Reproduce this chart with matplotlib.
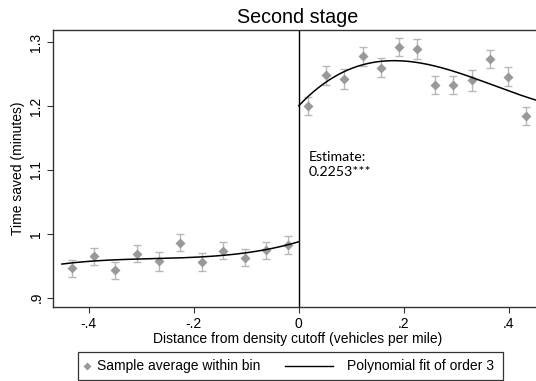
import numpy as np
import matplotlib
matplotlib.use("Agg")
import matplotlib.pyplot as plt
from matplotlib.lines import Line2D
from matplotlib.patches import Rectangle

# Bin averages (left / right of cutoff)
left_x = [-0.432, -0.390, -0.349, -0.309, -0.267, -0.226, -0.185, -0.144, -0.103, -0.062, -0.021]
left_y = [0.946, 0.965, 0.943, 0.969, 0.957, 0.986, 0.956, 0.9735, 0.9625, 0.974, 0.982]
left_err = [0.013, 0.0135, 0.013, 0.0135, 0.015, 0.013, 0.0135, 0.013, 0.0135, 0.0135, 0.014]

right_x = [0.017, 0.052, 0.086, 0.122, 0.156, 0.190, 0.225, 0.260, 0.294, 0.329, 0.364, 0.398, 0.433]
right_y = [1.200, 1.248, 1.242, 1.278, 1.260, 1.292, 1.289, 1.233, 1.233, 1.240, 1.274, 1.246, 1.184]
right_err = [0.0135, 0.015, 0.016, 0.015, 0.015, 0.014, 0.0155, 0.0145, 0.0145, 0.016, 0.0143, 0.015, 0.014]

# Points; a cubic is fitted through them
left_curve_x = [-0.451, -0.245, -0.226, -0.118, -0.055, 0.0]
left_curve_y = [0.9527, 0.9615, 0.963, 0.968, 0.977, 0.9875]
right_curve_x = [0.0, 0.031, 0.069, 0.120, 0.171, 0.212, 0.275, 0.339, 0.402, 0.450]
right_curve_y = [1.200, 1.226, 1.246, 1.2625, 1.271, 1.270, 1.2614, 1.2406, 1.222, 1.2105]

x_ticks = [-0.4, -0.2, 0, 0.2, 0.4]
x_tick_labels = ["-.4", "-.2", "0", ".2", ".4"]
y_ticks = [0.9, 1.0, 1.1, 1.2, 1.3]
y_tick_labels = [".9", "1", "1.1", "1.2", "1.3"]

legend_labels = ["Sample average within bin", "Polynomial fit of order 3"]

plt.rcParams["font.family"] = ["Liberation Sans", "DejaVu Sans"]

W, H = 536, 381
fig = plt.figure(figsize=(W / 100, H / 100), dpi=100)
ax = fig.add_axes([53 / W, 1 - 307 / H, 490 / W, 277 / H])

ax.errorbar(left_x, left_y, yerr=left_err, fmt="none", ecolor="#b8b8b8",
            elinewidth=1.0, capsize=2.6, capthick=1.0, zorder=2)
ax.errorbar(right_x, right_y, yerr=right_err, fmt="none", ecolor="#b8b8b8",
            elinewidth=1.0, capsize=2.6, capthick=1.0, zorder=2)
ax.plot(left_x + right_x, left_y + right_y, "D", color="#999999", ms=5,
        mec="none", zorder=3)

cl = np.polyfit(left_curve_x, left_curve_y, 3)
xl = np.linspace(-0.451, 0, 200)
ax.plot(xl, np.polyval(cl, xl), color="black", lw=1.1, zorder=4)
cr = np.polyfit(right_curve_x, right_curve_y, 3)
xr = np.linspace(0, 0.465, 200)
ax.plot(xr, np.polyval(cr, xr), color="black", lw=1.1, zorder=4)

ax.axvline(0, color="black", lw=1.0, zorder=1)

ax.set_xlim(-0.468, 0.465)
ax.set_ylim(0.8855, 1.319)
ax.set_xticks(x_ticks)
ax.set_xticklabels(x_tick_labels, fontsize=10)
ax.set_yticks(y_ticks)
ax.set_yticklabels(y_tick_labels, fontsize=10, rotation=90, va="center")
ax.tick_params(direction="out", length=4, width=0.8, color="#333333", pad=3)
for s in ax.spines.values():
    s.set_linewidth(1.0)
    s.set_color("#333333")

ax.set_xlabel("Distance from density cutoff (vehicles per mile)", fontsize=10, labelpad=1)
ax.set_ylabel("Time saved (minutes)", fontsize=10, labelpad=3)
ax.set_title("Second stage", fontsize=14.2, pad=5)

ax.text(0.019, 1.129, "Estimate:\n0.2253***", fontsize=10.2, family=["Lato", "DejaVu Sans"],
        va="top", ha="left", linespacing=1.25)

# legend box drawn by hand (Stata style: short gap after marker, long line key)
tf = fig.transFigure
fig.add_artist(Rectangle((78 / W, 1 - 380 / H), 425 / W, 28 / H, transform=tf,
                         facecolor="white", edgecolor="#333333", lw=0.9))
ly = 1 - 366 / H
fig.add_artist(Line2D([87 / W], [ly], marker="D", color="#999999", ms=4, mec="none",
                      ls="none", transform=tf))
fig.text(97 / W, ly, legend_labels[0], fontsize=10, va="center", ha="left")
fig.add_artist(Line2D([285 / W, 333 / W], [ly, ly], color="black", lw=1.0, transform=tf))
fig.text(347 / W, ly, legend_labels[1], fontsize=10, va="center", ha="left")

fig.savefig("out.png", dpi=100)
